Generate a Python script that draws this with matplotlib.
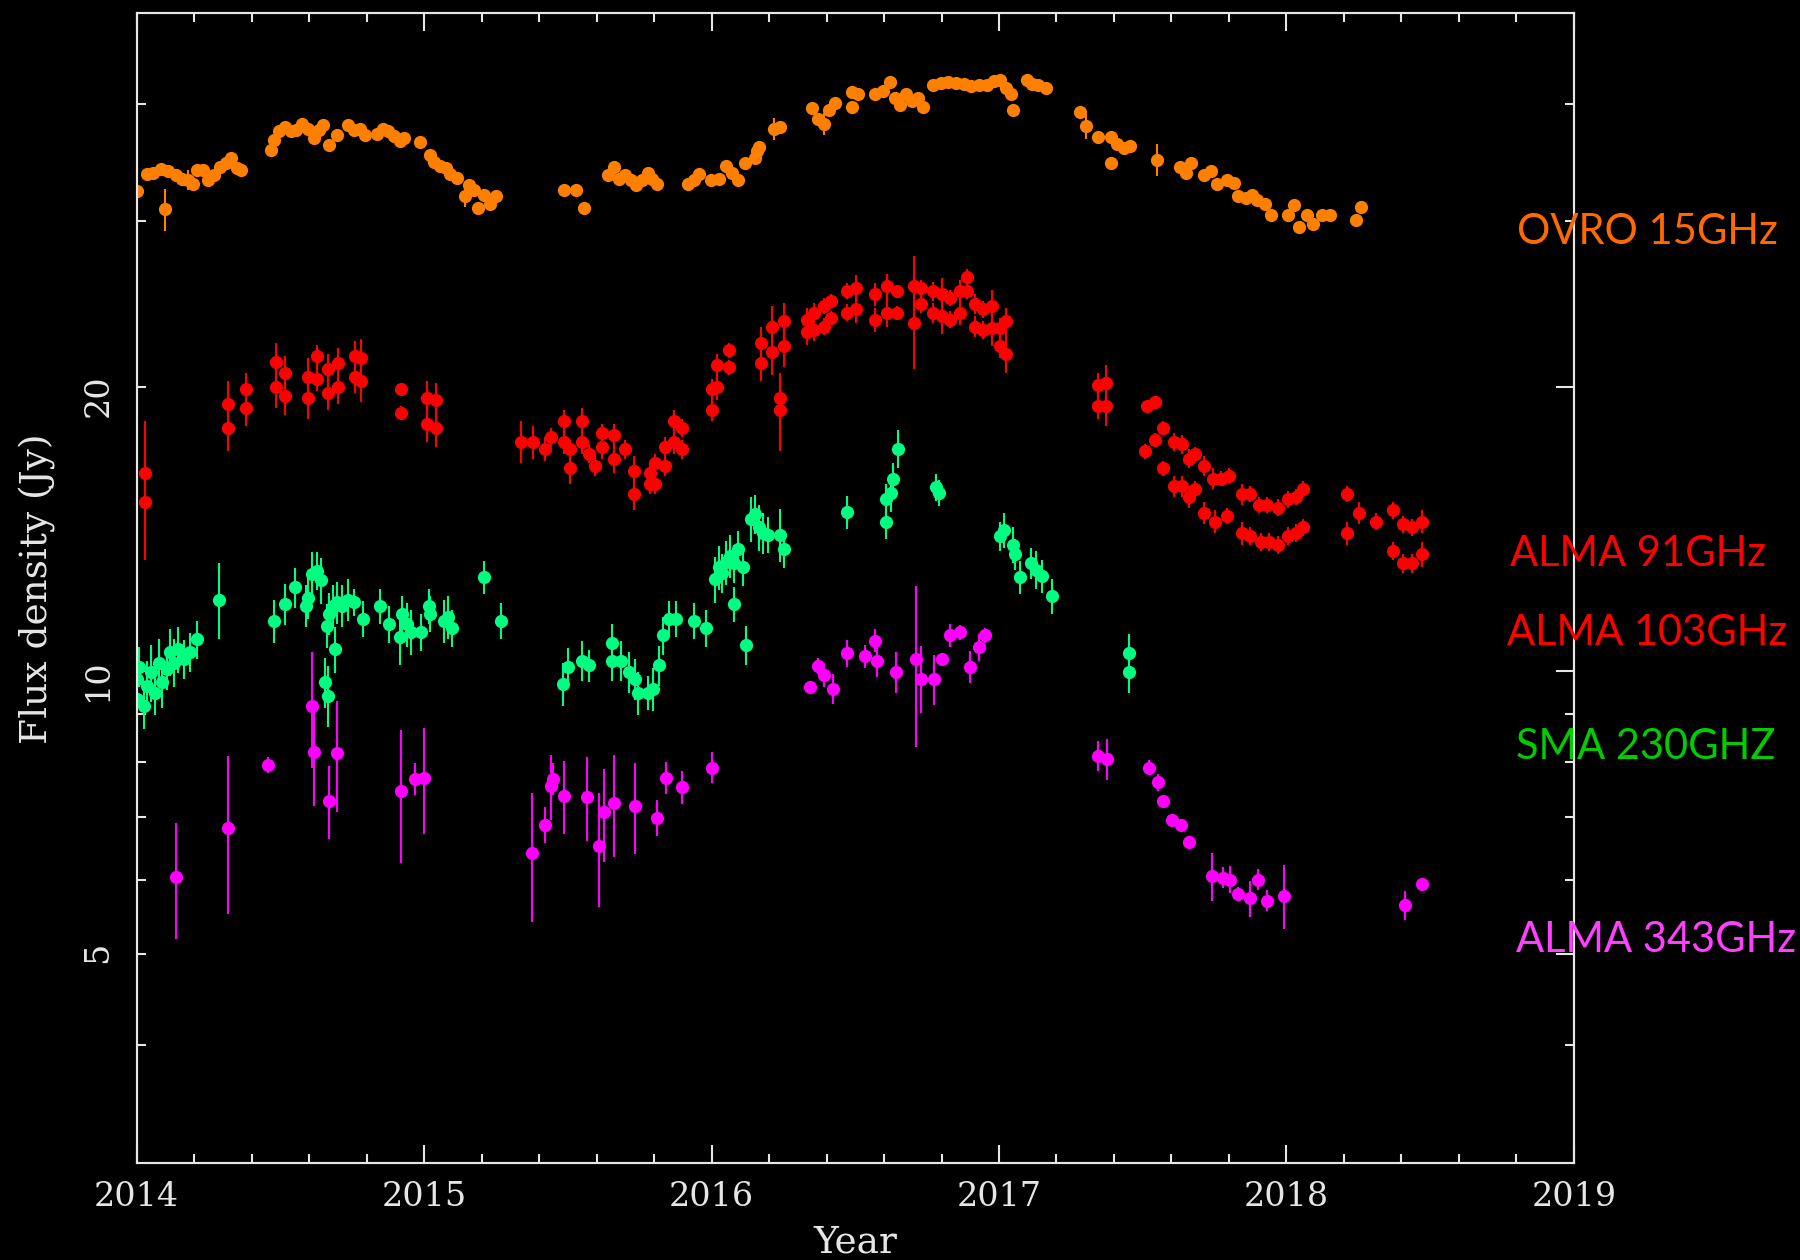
import matplotlib
matplotlib.use("Agg")
import matplotlib.pyplot as plt
from matplotlib.ticker import FixedLocator, FuncFormatter, NullFormatter, MultipleLocator

# (year, flux density Jy, error Jy)
ovro_15 = [
    (2014.000, 32.3, 0.4), (2014.037, 33.7, 0.3), (2014.057, 33.8, 0.3), (2014.084, 34.1, 0.5),
    (2014.100, 30.9, 1.6), (2014.110, 33.9, 0.3), (2014.137, 33.6, 0.3), (2014.157, 33.3, 0.3),
    (2014.177, 33.2, 0.8), (2014.197, 32.9, 0.3), (2014.210, 34.0, 0.3), (2014.230, 34.0, 0.3),
    (2014.250, 33.2, 0.3), (2014.270, 33.6, 0.3), (2014.290, 34.3, 0.3), (2014.310, 34.6, 0.3),
    (2014.330, 35.0, 0.5), (2014.350, 34.2, 0.3), (2014.363, 34.0, 0.3), (2014.467, 35.7, 0.4),
    (2014.477, 36.6, 0.3), (2014.497, 37.4, 0.3), (2014.516, 37.8, 0.4), (2014.536, 37.4, 0.3),
    (2014.556, 37.5, 0.3), (2014.576, 38.1, 0.4), (2014.596, 37.6, 0.3), (2014.616, 36.8, 0.3),
    (2014.636, 37.5, 0.3), (2014.650, 38.0, 0.5), (2014.670, 36.2, 0.3), (2014.696, 37.1, 0.3),
    (2014.736, 38.0, 0.3), (2014.756, 37.5, 0.3), (2014.776, 37.6, 0.4), (2014.796, 37.1, 0.3),
    (2014.836, 37.2, 0.3), (2014.856, 37.6, 0.4), (2014.876, 37.4, 0.3), (2014.896, 37.0, 0.3),
    (2014.916, 36.5, 0.5), (2014.930, 36.8, 0.3), (2014.986, 36.4, 0.3), (2015.022, 35.3, 0.3),
    (2015.035, 34.7, 0.3), (2015.056, 34.4, 0.3), (2015.076, 34.2, 0.3), (2015.089, 33.7, 0.3),
    (2015.116, 33.4, 0.3), (2015.142, 31.9, 0.8), (2015.155, 32.8, 0.3), (2015.175, 32.4, 0.4),
    (2015.189, 31.0, 0.3), (2015.209, 32.0, 0.3), (2015.229, 31.3, 0.4), (2015.249, 31.9, 0.3),
    (2015.488, 32.4, 0.3), (2015.528, 32.4, 0.3), (2015.555, 31.0, 0.3),
    (2015.639, 33.6, 0.3), (2015.659, 34.3, 0.3), (2015.679, 33.3, 0.3), (2015.699, 33.6, 0.3),
    (2015.719, 33.2, 0.3), (2015.738, 32.8, 0.3), (2015.758, 33.2, 0.3), (2015.778, 33.8, 0.4),
    (2015.792, 33.3, 0.3), (2015.812, 32.9, 0.3), (2015.918, 32.9, 0.4), (2015.938, 33.2, 0.3),
    (2015.958, 33.7, 0.3), (2015.998, 33.2, 0.3), (2016.025, 33.3, 0.3), (2016.051, 34.4, 0.3),
    (2016.071, 33.8, 0.3), (2016.091, 33.2, 0.5), (2016.118, 34.6, 0.3), (2016.151, 35.0, 0.3),
    (2016.158, 35.6, 0.3), (2016.164, 36.0, 0.3), (2016.218, 37.6, 1.0), (2016.238, 37.8, 0.3),
    (2016.351, 39.6, 0.4), (2016.371, 38.5, 0.4), (2016.390, 38.1, 1.0), (2016.410, 39.4, 0.4),
    (2016.430, 40.1, 0.4), (2016.490, 39.7, 0.3), (2016.490, 41.2, 0.3), (2016.510, 41.0, 0.3),
    (2016.570, 41.0, 0.3), (2016.597, 41.3, 0.3), (2016.620, 42.2, 0.5), (2016.637, 40.6, 0.3),
    (2016.657, 39.9, 0.5), (2016.677, 41.0, 0.3), (2016.697, 40.3, 0.3), (2016.717, 40.6, 0.3),
    (2016.737, 39.7, 0.3), (2016.770, 41.9, 0.3), (2016.797, 42.1, 0.3), (2016.823, 42.2, 0.3),
    (2016.850, 42.1, 0.3), (2016.877, 42.0, 0.3), (2016.903, 41.8, 0.5), (2016.930, 41.9, 0.3),
    (2016.957, 41.9, 0.3), (2016.983, 42.3, 0.3), (2017.003, 42.4, 0.3), (2017.023, 41.6, 0.3),
    (2017.043, 41.0, 0.3), (2017.050, 39.4, 0.3), (2017.096, 42.4, 0.3), (2017.116, 42.0, 0.3),
    (2017.136, 41.9, 0.3), (2017.163, 41.6, 0.5), (2017.283, 39.2, 0.4), (2017.303, 37.9, 1.2),
    (2017.343, 36.9, 0.3), (2017.389, 36.9, 0.4), (2017.389, 34.6, 0.3), (2017.409, 36.3, 0.3),
    (2017.436, 35.9, 0.4), (2017.456, 36.1, 0.3), (2017.549, 34.9, 1.4), (2017.629, 34.3, 0.4),
    (2017.649, 33.8, 0.3), (2017.669, 34.6, 0.3), (2017.712, 33.6, 0.3), (2017.739, 33.9, 0.3),
    (2017.759, 32.9, 0.3), (2017.792, 33.2, 0.3), (2017.819, 33.0, 0.3), (2017.832, 31.9, 0.3),
    (2017.859, 31.8, 0.3), (2017.879, 32.0, 0.3), (2017.899, 31.6, 0.3), (2017.925, 31.3, 0.3),
    (2017.945, 30.5, 0.3), (2018.005, 30.5, 0.3), (2018.025, 31.2, 0.3), (2018.045, 29.6, 0.3),
    (2018.072, 30.5, 0.3), (2018.092, 29.8, 0.3), (2018.125, 30.5, 0.3), (2018.152, 30.5, 0.3),
    (2018.242, 30.1, 0.3), (2018.258, 31.1, 0.3),
]

alma_91 = [
    (2014.028, 16.2, 2.2), (2014.317, 19.2, 1.1), (2014.379, 19.9, 0.8), (2014.486, 21.3, 1.0),
    (2014.517, 20.7, 0.9), (2014.596, 20.5, 1.0), (2014.627, 21.6, 0.6), (2014.667, 20.9, 0.8),
    (2014.699, 21.2, 0.8), (2014.760, 21.6, 0.8), (2014.779, 21.5, 1.0), (2014.920, 19.9, 0.3),
    (2015.009, 19.5, 0.8), (2015.040, 19.4, 0.8), (2015.338, 17.5, 0.9), (2015.378, 17.5, 0.7),
    (2015.442, 17.7, 0.4), (2015.488, 18.4, 0.5), (2015.508, 17.2, 0.4), (2015.548, 18.4, 0.6),
    (2015.575, 17.0, 0.4), (2015.619, 17.9, 0.4), (2015.659, 17.8, 0.5), (2015.699, 17.2, 0.4),
    (2015.729, 16.3, 0.6), (2015.785, 16.2, 0.4), (2015.805, 16.6, 0.4), (2015.838, 17.3, 0.4),
    (2015.870, 18.4, 0.5), (2015.898, 18.1, 0.4), (2016.002, 19.9, 0.5), (2016.018, 21.1, 0.6),
    (2016.062, 21.9, 0.4), (2016.171, 22.3, 0.9), (2016.211, 23.2, 1.2), (2016.238, 19.5, 1.0),
    (2016.251, 23.5, 1.1), (2016.331, 23.6, 0.7), (2016.358, 24.0, 0.6), (2016.390, 24.4, 0.5),
    (2016.417, 24.7, 0.4), (2016.470, 25.3, 0.5), (2016.504, 25.5, 0.8), (2016.570, 25.1, 0.7),
    (2016.610, 25.6, 0.8), (2016.644, 25.3, 0.4), (2016.704, 25.6, 2.0), (2016.730, 25.5, 0.5),
    (2016.770, 25.3, 0.6), (2016.803, 25.1, 1.0), (2016.830, 24.9, 0.5), (2016.863, 25.3, 0.7),
    (2016.890, 26.2, 0.5), (2016.916, 24.5, 0.6), (2016.943, 24.2, 0.5), (2016.976, 24.4, 1.0),
    (2017.003, 23.1, 0.6), (2017.023, 23.5, 0.8), (2017.343, 20.1, 0.6), (2017.372, 20.2, 0.9),
    (2017.516, 19.1, 0.3), (2017.542, 19.3, 0.3), (2017.572, 18.1, 0.3), (2017.609, 17.5, 0.4),
    (2017.635, 17.4, 0.4), (2017.662, 16.8, 0.4), (2017.682, 17.0, 0.3), (2017.712, 16.5, 0.4),
    (2017.746, 16.0, 0.4), (2017.772, 16.0, 0.3), (2017.799, 16.1, 0.3), (2017.845, 15.4, 0.4),
    (2017.872, 15.4, 0.3), (2017.905, 15.0, 0.3), (2017.932, 15.0, 0.3), (2017.972, 14.9, 0.3),
    (2018.005, 15.2, 0.3), (2018.032, 15.3, 0.3), (2018.058, 15.6, 0.3), (2018.212, 15.4, 0.3),
    (2018.251, 14.7, 0.4), (2018.311, 14.4, 0.3), (2018.371, 14.8, 0.3), (2018.405, 14.3, 0.3),
    (2018.438, 14.2, 0.3), (2018.471, 14.4, 0.4),
]

alma_103 = [
    (2014.028, 15.1, 2.0), (2014.317, 18.1, 1.0), (2014.379, 19.0, 0.8), (2014.486, 20.0, 1.0),
    (2014.517, 19.6, 0.9), (2014.596, 19.5, 1.0), (2014.627, 20.4, 0.6), (2014.667, 19.7, 0.8),
    (2014.699, 20.0, 0.8), (2014.760, 20.5, 0.8), (2014.779, 20.3, 1.0), (2014.920, 18.8, 0.3),
    (2015.009, 18.3, 0.8), (2015.040, 18.1, 0.8), (2015.422, 17.2, 0.5), (2015.488, 17.5, 0.5),
    (2015.508, 16.4, 0.6), (2015.548, 17.5, 0.5), (2015.595, 16.5, 0.4), (2015.619, 17.3, 0.5),
    (2015.659, 16.8, 0.6), (2015.729, 15.4, 0.6), (2015.785, 15.8, 0.4), (2015.805, 15.8, 0.4),
    (2015.838, 16.5, 0.4), (2015.870, 17.5, 0.5), (2015.898, 17.2, 0.4), (2016.002, 18.9, 0.5),
    (2016.018, 20.0, 0.6), (2016.062, 21.0, 0.4), (2016.171, 21.2, 0.9), (2016.211, 21.8, 1.2),
    (2016.238, 18.9, 1.8), (2016.251, 22.1, 1.1), (2016.331, 22.9, 0.7), (2016.358, 23.0, 0.6),
    (2016.390, 23.2, 0.5), (2016.417, 23.7, 0.4), (2016.470, 24.0, 0.5), (2016.504, 24.2, 0.8),
    (2016.570, 23.6, 0.7), (2016.610, 24.0, 0.8), (2016.644, 24.0, 0.4), (2016.704, 23.4, 2.5),
    (2016.730, 24.5, 0.5), (2016.770, 24.0, 0.6), (2016.803, 23.8, 1.0), (2016.830, 23.6, 0.5),
    (2016.863, 24.0, 0.7), (2016.890, 25.3, 0.5), (2016.916, 23.2, 0.6), (2016.943, 23.0, 0.5),
    (2016.976, 23.1, 1.0), (2017.003, 22.1, 0.6), (2017.023, 21.7, 1.0), (2017.343, 19.1, 0.6),
    (2017.372, 19.1, 0.9), (2017.509, 17.1, 0.3), (2017.542, 17.6, 0.3), (2017.572, 16.4, 0.3),
    (2017.609, 15.7, 0.4), (2017.635, 15.7, 0.4), (2017.662, 15.3, 0.4), (2017.682, 15.6, 0.3),
    (2017.712, 14.7, 0.4), (2017.752, 14.4, 0.4), (2017.792, 14.6, 0.3), (2017.845, 14.0, 0.4),
    (2017.872, 13.9, 0.3), (2017.912, 13.7, 0.3), (2017.939, 13.7, 0.3), (2017.972, 13.6, 0.3),
    (2018.005, 13.9, 0.3), (2018.032, 14.0, 0.3), (2018.058, 14.2, 0.3), (2018.212, 14.0, 0.4),
    (2018.371, 13.4, 0.3), (2018.405, 13.0, 0.3), (2018.438, 13.0, 0.3), (2018.471, 13.3, 0.4),
]

sma_230 = [
    (2014.000, 9.33, 0.6), (2014.000, 9.80, 0.5), (2014.010, 10.10, 0.5), (2014.024, 9.18, 0.5),
    (2014.037, 9.64, 0.6), (2014.050, 9.96, 0.7), (2014.064, 9.48, 0.5), (2014.077, 10.20, 0.6),
    (2014.090, 9.72, 0.6), (2014.104, 10.04, 0.5), (2014.117, 10.46, 0.6), (2014.130, 10.20, 0.6),
    (2014.144, 10.54, 0.6), (2014.164, 10.29, 0.5), (2014.184, 10.46, 0.5), (2014.210, 10.80, 0.5),
    (2014.286, 11.90, 1.1), (2014.477, 11.30, 0.6), (2014.516, 11.77, 0.6), (2014.550, 12.26, 0.6),
    (2014.590, 11.72, 0.6), (2014.596, 11.96, 0.6), (2014.610, 12.67, 0.7), (2014.627, 12.77, 0.6),
    (2014.643, 12.47, 0.7), (2014.656, 9.72, 0.6), (2014.663, 11.16, 0.6), (2014.667, 9.41, 0.7),
    (2014.670, 11.50, 0.6), (2014.683, 11.72, 0.6), (2014.690, 10.54, 0.6), (2014.696, 11.82, 0.6),
    (2014.716, 11.72, 0.6), (2014.736, 11.90, 0.6), (2014.756, 11.82, 0.4), (2014.787, 11.35, 0.5),
    (2014.847, 11.70, 0.5), (2014.879, 11.20, 0.5), (2014.916, 10.85, 0.7), (2014.922, 11.50, 0.5),
    (2014.942, 11.20, 0.6), (2014.956, 11.00, 0.6), (2014.989, 11.00, 0.5), (2015.016, 11.72, 0.5),
    (2015.022, 11.50, 0.5), (2015.069, 11.30, 0.6), (2015.082, 11.40, 0.6), (2015.096, 11.10, 0.5),
    (2015.209, 12.57, 0.5), (2015.269, 11.30, 0.5), (2015.482, 9.68, 0.5), (2015.502, 10.08, 0.5),
    (2015.548, 10.25, 0.5), (2015.575, 10.13, 0.4), (2015.652, 10.70, 0.5), (2015.652, 10.25, 0.5),
    (2015.685, 10.25, 0.5), (2015.712, 9.96, 0.5), (2015.732, 9.80, 0.5), (2015.745, 9.48, 0.5),
    (2015.778, 9.48, 0.4), (2015.798, 9.56, 0.5), (2015.818, 10.13, 0.5), (2015.832, 10.90, 0.5),
    (2015.852, 11.35, 0.5), (2015.878, 11.35, 0.5), (2015.938, 11.30, 0.5), (2015.982, 11.10, 0.5),
    (2016.011, 12.50, 0.7), (2016.025, 12.88, 0.7), (2016.038, 12.70, 0.6), (2016.051, 13.04, 0.7),
    (2016.065, 13.25, 0.7), (2016.078, 13.00, 0.6), (2016.078, 11.77, 0.5), (2016.091, 13.47, 0.6),
    (2016.111, 12.90, 0.6), (2016.120, 10.65, 0.5), (2016.138, 14.50, 0.8), (2016.151, 14.68, 0.7),
    (2016.164, 14.20, 0.8), (2016.178, 14.00, 0.7), (2016.198, 13.95, 0.6), (2016.238, 13.95, 0.9),
    (2016.251, 13.47, 0.6), (2016.471, 14.73, 0.6), (2016.608, 14.40, 0.6), (2016.608, 15.20, 0.6),
    (2016.624, 15.45, 0.7), (2016.630, 16.00, 0.6), (2016.650, 17.20, 0.8), (2016.781, 15.66, 0.5),
    (2016.790, 15.45, 0.5), (2017.003, 13.90, 0.5), (2017.016, 14.10, 0.6), (2017.050, 13.60, 0.6),
    (2017.056, 13.30, 0.5), (2017.074, 12.57, 0.5), (2017.110, 13.00, 0.5), (2017.130, 12.80, 0.6),
    (2017.150, 12.60, 0.5), (2017.183, 12.00, 0.5), (2017.453, 10.44, 0.5), (2017.453, 9.96, 0.5),
]

alma_343 = [
    (2014.137, 6.04, 0.85), (2014.317, 6.81, 1.30), (2014.457, 7.94, 0.15), (2014.610, 9.18, 1.30),
    (2014.616, 8.19, 1.00), (2014.670, 7.27, 0.65), (2014.696, 8.18, 1.10), (2014.919, 7.45, 1.20),
    (2014.969, 7.67, 0.30), (2015.000, 7.70, 1.00), (2015.375, 6.41, 1.00), (2015.422, 6.86, 0.30),
    (2015.442, 7.54, 0.60), (2015.448, 7.67, 0.30), (2015.488, 7.36, 0.65), (2015.568, 7.34, 0.75),
    (2015.608, 6.51, 0.90), (2015.625, 7.07, 0.80), (2015.659, 7.24, 0.90), (2015.732, 7.18, 0.80),
    (2015.812, 6.98, 0.30), (2015.841, 7.69, 0.30), (2015.898, 7.52, 0.30), (2016.002, 7.89, 0.30),
    (2016.342, 9.62, 0.10), (2016.371, 10.12, 0.20), (2016.390, 9.90, 0.30), (2016.421, 9.56, 0.35),
    (2016.470, 10.44, 0.35), (2016.533, 10.36, 0.30), (2016.570, 10.76, 0.30), (2016.577, 10.25, 0.40),
    (2016.640, 9.96, 0.50), (2016.710, 10.30, 2.00), (2016.730, 9.81, 0.80), (2016.773, 9.80, 0.60),
    (2016.800, 10.30, 0.10), (2016.830, 10.90, 0.30), (2016.863, 10.98, 0.20), (2016.900, 10.10, 0.40),
    (2016.930, 10.60, 0.35), (2016.950, 10.90, 0.20), (2017.343, 8.12, 0.30), (2017.376, 8.06, 0.40),
    (2017.522, 7.89, 0.15), (2017.553, 7.61, 0.15), (2017.572, 7.27, 0.10), (2017.602, 6.94, 0.10),
    (2017.633, 6.85, 0.10), (2017.662, 6.58, 0.10), (2017.742, 6.05, 0.35), (2017.779, 6.03, 0.15),
    (2017.803, 6.00, 0.20), (2017.832, 5.79, 0.10), (2017.872, 5.73, 0.25), (2017.901, 6.00, 0.15),
    (2017.932, 5.70, 0.15), (2017.992, 5.77, 0.45), (2018.414, 5.64, 0.20), (2018.471, 5.93, 0.10),
]

series = [
    (ovro_15, '#FF8000'),
    (alma_91, '#FF0000'),
    (alma_103, '#FF0000'),
    (sma_230, '#00FF80'),
    (alma_343, '#FF00FF'),
]

labels = ['OVRO 15GHz', 'ALMA 91GHz', 'ALMA 103GHz', 'SMA 230GHZ', 'ALMA 343GHz']
label_colors = ['#FF6A00', '#FF0000', '#FF0000', '#00CC00', '#FF40FF']
label_pos = [(0.843, 0.816), (0.839, 0.560), (0.837, 0.498), (0.842, 0.407), (0.842, 0.254)]

fg = '#E6E6E6'
yticks_major = [5, 10, 20]
yticks_minor = [4, 6, 7, 8, 9, 30, 40]

fig = plt.figure(figsize=(18, 12.6), dpi=100, facecolor='black')
ax = fig.add_axes([0.0759, 0.077, 0.7985, 0.913])
ax.set_facecolor('black')

for data, col in series:
    yr = [d[0] for d in data]
    fl = [d[1] for d in data]
    er = [d[2] for d in data]
    ax.errorbar(yr, fl, yerr=er, fmt='o', color=col, ms=9.5, mew=0,
                elinewidth=1.5, capsize=0)

ax.set_yscale('log')
ax.set_xlim(2014, 2019)
ax.set_ylim(3, 50)

ax.xaxis.set_major_locator(MultipleLocator(1))
ax.xaxis.set_minor_locator(MultipleLocator(0.2))
ax.xaxis.set_major_formatter(FuncFormatter(lambda v, p: '%d' % round(v)))
ax.yaxis.set_major_locator(FixedLocator(yticks_major))
ax.yaxis.set_minor_locator(FixedLocator(yticks_minor))
ax.yaxis.set_major_formatter(FuncFormatter(lambda v, p: '%d' % round(v)))
ax.yaxis.set_minor_formatter(NullFormatter())

for s in ax.spines.values():
    s.set_color(fg)
    s.set_linewidth(1.5)

ax.tick_params(which='both', direction='in', top=True, right=False,
               color=fg, width=1.5, labelcolor=fg, labelsize=24)
ax.tick_params(axis='x', which='major', length=13)
ax.tick_params(axis='x', which='minor', length=6.5)
ax.tick_params(axis='y', which='both', length=6.5)
ax.tick_params(axis='x', pad=13)
ax.tick_params(axis='y', labelrotation=90, pad=16)
for t in ax.get_xticklabels() + ax.get_yticklabels():
    t.set_family('DejaVu Serif')

# right-hand axis: same scale, longer major ticks, no labels
ax2 = ax.twinx()
ax2.set_yscale('log')
ax2.set_ylim(3, 50)
ax2.yaxis.set_major_locator(FixedLocator(yticks_major))
ax2.yaxis.set_minor_locator(FixedLocator(yticks_minor))
ax2.yaxis.set_major_formatter(NullFormatter())
ax2.yaxis.set_minor_formatter(NullFormatter())
ax2.tick_params(which='both', direction='in', color=fg, width=1.5)
ax2.tick_params(which='major', length=13)
ax2.tick_params(which='minor', length=6.5)
for s in ax2.spines.values():
    s.set_color(fg)
    s.set_linewidth(1.5)

fig.text(0.475, 0.0135, 'Year', color=fg, fontsize=27, family='DejaVu Serif',
         ha='center', va='center')
fig.text(0.0211, 0.533, 'Flux density (Jy)', color=fg, fontsize=27, family='DejaVu Serif',
         rotation=90, ha='center', va='center')

for txt, col, (x, y) in zip(labels, label_colors, label_pos):
    fig.text(x, y, txt, color=col, fontsize=30, family='Lato', ha='left', va='center')

fig.savefig('out.png', dpi=100, facecolor='black')
